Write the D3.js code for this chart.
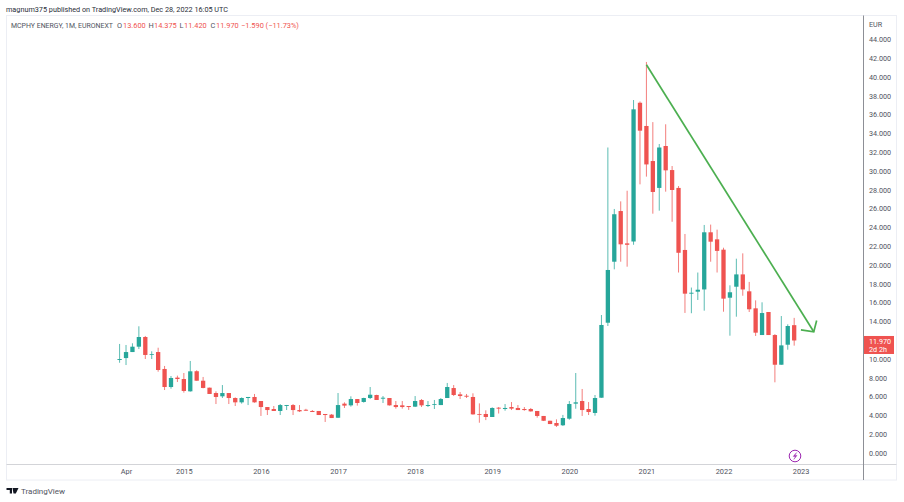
<!DOCTYPE html>
<html><head><meta charset="utf-8">
<script src="https://cdnjs.cloudflare.com/ajax/libs/d3/7.8.5/d3.min.js"></script>
<style>html,body{margin:0;padding:0;background:#fff}svg{display:block}</style></head>
<body><svg id="c" width="904" height="502"></svg>
<script>
// Monthly candles, Mar 2014 to Dec 2022. One line per calendar year.
const opens=[
9.9,10.1,10.74,11.31,12.34,10.46,10.74,8.94,7.02,8.02,
7.87,6.56,8.7,7.69,6.95,6.38,6.03,6.38,5.85,5.39,5.85,5.96,
5.53,4.89,4.68,4.47,5.0,5.1,4.57,4.6,4.47,4.47,4.15,4.08,
3.75,5.25,5.07,5.74,5.43,5.85,6.17,5.78,5.85,5.1,5.07,5.0,
4.93,5.64,5.0,5.14,5.1,5.85,6.91,6.24,6.09,5.96,4.15,4.15,
3.83,4.82,4.68,4.89,4.79,4.68,4.68,4.47,3.94,3.43,3.19,2.95,
3.65,5.25,5.53,4.68,4.26,5.88,13.86,20.35,25.74,22.3,22.5,37.26,
34.79,31.06,28.2,32.66,30.1,28.2,21.6,16.95,17.16,17.4,23.48,22.73,
21.63,16.52,17.69,19.0,17.2,15.39,12.55,15.0,12.55,9.39,11.52,13.6];
const highs=[
11.6,11.49,11.67,13.48,12.45,10.82,11.2,9.26,8.19,8.23,
8.51,9.79,8.8,8.09,6.95,6.56,7.23,6.38,5.92,5.92,5.96,6.28,
5.53,4.89,5.0,5.21,5.11,5.21,5.1,4.7,4.57,4.47,4.15,4.15,
6.38,5.39,6.03,5.74,5.88,7.02,6.2,6.06,5.85,5.53,5.53,5.0,
6.06,5.74,5.53,5.64,5.85,7.45,7.23,6.49,6.28,6.35,5.28,4.54,
4.86,4.89,5.21,5.42,5.1,4.89,4.79,4.47,3.94,3.43,3.58,4.05,
5.53,8.51,6.81,5.42,6.17,14.68,32.5,25.96,26.77,27.9,37.55,37.4,
41.6,35.2,32.87,34.97,30.53,28.4,23.3,17.6,19.2,24.26,24.3,23.76,
21.84,17.84,20.67,21.24,18.2,16.24,16.03,15.0,12.65,14.57,13.69,14.375];
const lows=[
9.6,9.36,10.74,11.06,10.0,10.0,8.65,6.7,6.84,7.55,
6.42,6.53,7.69,6.88,6.28,5.21,5.85,5.21,5.0,5.25,5.1,5.35,
3.94,4.04,4.47,4.04,4.57,4.04,4.36,4.47,4.36,4.04,3.3,3.72,
3.72,4.79,4.93,5.04,5.36,5.74,5.64,5.32,5.04,4.72,4.72,4.58,
4.89,4.89,4.89,4.68,5.1,5.85,6.06,5.74,5.85,4.08,3.22,3.5,
3.83,4.2,4.5,4.57,4.57,4.5,4.4,3.76,3.4,3.08,2.77,2.87,
3.54,4.71,3.94,4.04,3.97,5.88,13.51,19.54,20.35,19.82,22.15,28.58,
29.4,25.46,25.78,27.8,24.6,19.2,14.9,14.87,16.28,15.14,20.35,19.2,
15.03,12.48,14.5,16.73,15.0,12.45,12.55,12.55,7.52,9.39,10.99,11.42];
const closes=[
10.0,10.74,11.31,12.34,10.43,10.53,8.83,7.02,7.98,7.87,
6.6,8.69,7.69,6.92,6.28,5.96,6.38,5.85,5.39,5.85,5.96,5.39,
4.89,4.57,4.47,5.1,5.1,4.57,4.43,4.5,4.36,4.04,4.04,3.72,
5.1,5.04,5.74,5.32,5.85,6.2,5.64,5.88,5.07,4.89,4.89,4.89,
5.53,5.07,5.1,5.21,5.74,7.02,6.17,6.06,5.99,4.11,4.08,3.83,
4.79,4.72,4.79,4.72,4.57,4.57,4.43,3.94,3.43,3.08,2.9,3.72,
5.21,5.39,4.57,4.36,5.85,13.62,19.47,25.4,22.2,22.15,36.56,34.29,
30.7,27.77,32.5,30.07,27.98,21.3,16.95,17.05,17.37,23.48,22.48,21.5,
16.42,17.1,19.0,17.4,15.29,12.8,14.89,12.55,9.39,11.45,13.51,11.97];
const priceTicks=[0,2,4,6,8,10,14,16,18,20,22,24,26,28,30,32,34,36,38,40,42,44];
const timeLabels=["Apr","2015","2016","2017","2018","2019","2020","2021","2022","2023"];
const timeIndex=[1,10,22,34,46,58,70,82,94,106];
const trendMonths=[82,108.05];
const trendPrices=[41.3,12.9];
const headMonths=[106.05,108.05,108.5];
const headPrices=[13.1,12.9,14.1];
const lastPrice=11.97;

const GREEN="#26a69a",RED="#ef5350",F="Roboto, sans-serif",TXT="#50535e";
const svg=d3.select("#c");
const x=d3.scaleLinear().domain([0,106]).range([119.6,800.6]);
const y=d3.scaleLinear().domain([0,44]).range([453,39.4]);

svg.append("rect").attr("x",6.5).attr("y",15.5).attr("width",890).attr("height",464.5).attr("fill","#fff").attr("stroke","#eceef4");

const axY=svg.append("g").attr("transform","translate(863.5,0)").call(d3.axisRight(y).tickValues(priceTicks).tickSize(0).tickPadding(5.5).tickFormat(d3.format(".3f")));
axY.select(".domain").remove();
axY.selectAll("text").attr("font-family",F).attr("font-size",7.2).attr("fill",TXT);
const axX=svg.append("g").attr("transform","translate(0,464.5)").call(d3.axisBottom(x).tickValues(timeIndex).tickSize(0).tickPadding(4.5).tickFormat((d,i)=>timeLabels[i]));
axX.select(".domain").remove();
axX.selectAll("text").attr("font-family",F).attr("font-size",7.4).attr("fill",TXT);
svg.append("line").attr("x1",6.5).attr("x2",896.5).attr("y1",464.5).attr("y2",464.5).attr("stroke","#d3d4d8");
svg.append("line").attr("x1",863.5).attr("x2",863.5).attr("y1",15.5).attr("y2",480).attr("stroke","#8d8f96");
svg.append("text").attr("x",869).attr("y",27).text("EUR").attr("font-family",F).attr("font-size",7.2).attr("fill",TXT);

const idx=d3.range(opens.length);
const col=i=>closes[i]>=opens[i]?GREEN:RED;
const g=svg.append("g");
g.selectAll(".w").data(idx).join("line").attr("class","w")
 .attr("x1",i=>x(i)).attr("x2",i=>x(i)).attr("y1",i=>y(highs[i])).attr("y2",i=>y(lows[i]))
 .attr("stroke",col).attr("stroke-width",0.75);
g.selectAll(".b").data(idx).join("rect").attr("class","b")
 .attr("x",i=>x(i)-2.15).attr("width",4.3)
 .attr("y",i=>y(Math.max(opens[i],closes[i])))
 .attr("height",i=>Math.max(0.8,Math.abs(y(opens[i])-y(closes[i]))))
 .attr("fill",col);

const line=d3.line().x(d=>x(d[0])).y(d=>y(d[1]));
const ann=svg.append("g").attr("fill","none").attr("stroke","#4caf50").attr("stroke-width",1.7);
ann.append("path").attr("d",line(trendMonths.map((m,i)=>[m,trendPrices[i]])));
ann.append("path").attr("d",line(headMonths.map((m,i)=>[m,headPrices[i]])));

svg.append("rect").attr("x",864).attr("y",y(lastPrice)-4.5).attr("width",30).attr("height",18).attr("fill",RED);
svg.append("text").attr("x",869).attr("y",344).text("11.970").attr("font-family",F).attr("font-size",7.2).attr("fill","#fff");
svg.append("text").attr("x",869).attr("y",352).text("2d 2h").attr("font-family",F).attr("font-size",7.2).attr("fill","#fff");

svg.append("circle").attr("cx",795).attr("cy",456).attr("r",5.8).attr("fill","#fff").attr("stroke","#9c27b0").attr("stroke-width",1);
svg.append("path").attr("d","M796.6 452.6 L793.2 456.4 L795.6 456.4 L793.8 459.4 L797 455.4 L794.7 455.4 Z").attr("fill","#9c27b0").attr("stroke","#9c27b0").attr("stroke-width",0.4);

svg.append("text").attr("x",6).attr("y",12).attr("font-family",F).attr("font-size",8).attr("fill","#2a2e39").attr("textLength",222).attr("lengthAdjust","spacingAndGlyphs").text("magnum375 published on TradingView.com, Dec 28, 2022 16:05 UTC");
svg.append("text").attr("x",11).attr("y",28).attr("font-family",F).attr("font-size",6.9).attr("fill",TXT).attr("textLength",102).attr("lengthAdjust","spacingAndGlyphs").text("MCPHY ENERGY, 1M, EURONEXT");
[["O",117,TXT],["13.600",123,RED],["H",148.5,TXT],["14.375",154,RED],["L",179.5,TXT],["11.420",184,RED],["C",210.5,TXT],["11.970",216,RED],["−1.590 (−11.73%)",241,RED]].forEach(d=>{
 svg.append("text").attr("x",d[1]).attr("y",28).attr("font-family",F).attr("font-size",7.4).attr("fill",d[2]).text(d[0]);
});
svg.append("path").attr("d","M6.5 488 H12 V493.5 H9.8 V490 H6.5 Z M12.5 488 H18.5 L15.8 493.5 H13.5 Z").attr("fill","#131722");
svg.append("text").attr("x",21).attr("y",494).attr("font-family",F).attr("font-size",8).attr("fill",TXT).text("TradingView");
</script></body></html>
